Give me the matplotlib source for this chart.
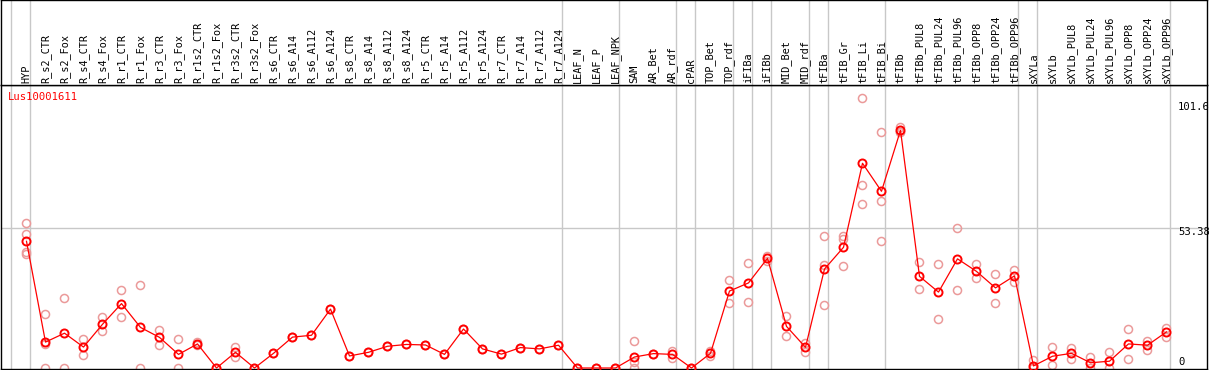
import matplotlib
matplotlib.use('Agg')
import matplotlib.pyplot as plt

gene = 'Lus10001611'

samples = ['HYP', 'R_s2_CTR', 'R_s2_Fox', 'R_s4_CTR', 'R_s4_Fox', 'R_r1_CTR', 'R_r1_Fox',
           'R_r3_CTR', 'R_r3_Fox', 'R_r1s2_CTR', 'R_r1s2_Fox', 'R_r3s2_CTR', 'R_r3s2_Fox',
           'R_s6_CTR', 'R_s6_A14', 'R_s6_A112', 'R_s6_A124', 'R_s8_CTR', 'R_s8_A14',
           'R_s8_A112', 'R_s8_A124', 'R_r5_CTR', 'R_r5_A14', 'R_r5_A112', 'R_r5_A124',
           'R_r7_CTR', 'R_r7_A14', 'R_r7_A112', 'R_r7_A124', 'LEAF_N', 'LEAF_P', 'LEAF_NPK',
           'SAM', 'AR_Bet', 'AR_rdf', 'cPAR', 'TOP_Bet', 'TOP_rdf', 'iFIBa', 'iFIBb',
           'MID_Bet', 'MID_rdf', 'tFIBa', 'tFIB_Gr', 'tFIB_Li', 'tFIB_Bi', 'tFIBb',
           'tFIBb_PUL8', 'tFIBb_PUL24', 'tFIBb_PUL96', 'tFIBb_OPP8', 'tFIBb_OPP24', 'tFIBb_OPP96',
           'sXYLa', 'sXYLb', 'sXYLb_PUL8', 'sXYLb_PUL24', 'sXYLb_PUL96', 'sXYLb_OPP8',
           'sXYLb_OPP24', 'sXYLb_OPP96']

# mean expression per sample
means = [48.4, 9.9, 13.3, 8.0, 16.7, 24.6, 15.5, 11.7, 5.2, 9.2, 0.0, 6.0, 0.0,
         5.6, 11.8, 12.5, 22.5, 4.6, 6.0, 8.3, 9.0, 8.8, 5.2, 14.9, 7.3,
         5.3, 7.8, 7.3, 8.7, 0.0, 0.0, 0.0, 4.2, 5.5, 5.2, 0.0, 5.6, 29.4, 32.5, 41.9,
         15.9, 7.9, 37.8, 46.1, 78.2, 67.5, 90.8, 35.0, 29.0, 41.7, 36.9, 30.6, 35.2,
         0.8, 4.5, 5.6, 2.0, 2.6, 9.2, 8.7, 13.8]

# individual replicates
reps = [[55.3, 51.1, 44.4, 43.4], [20.5, 0.0, 9.3], [26.9, 0.0], [11.1, 4.8], [19.5, 14.0],
        [29.7, 19.4], [31.6, 0.0], [14.5, 8.9], [11.1, 0.0], [9.8, 8.6], [0.0],
        [7.9, 4.1], [0.0], [5.6], [11.8], [12.5], [22.5], [4.6], [6.0], [8.3], [9.0],
        [8.8], [5.2], [14.9], [7.3], [5.3], [7.8], [7.3], [8.7], [0.0], [0.0], [0.0],
        [10.3, 2.2, 0.0], [5.5], [6.4, 3.9], [0.0], [6.6, 4.6], [33.5, 24.7], [40.0, 25.1],
        [42.8, 41.0], [19.8, 12.2], [9.7, 6.0], [50.3, 39.5, 24.1], [50.6, 49.3, 38.9],
        [103.0, 69.9, 62.5], [90.1, 63.7, 48.4], [92.0, 90.1, 90.3], [40.5, 30.1],
        [39.6, 18.6], [53.4, 29.8], [39.7, 34.3], [35.8, 24.7], [37.6, 32.7],
        [3.1, 0.0], [8.0, 1.0], [7.8, 3.3], [4.2, 0.0], [6.1, 0.0], [14.8, 3.3],
        [10.4, 6.9], [15.4, 12.0]]

# group separators sit just right of these sample indices
group_ends = [-1, 0, 28, 31, 34, 35, 37, 38, 39, 41, 42, 45, 52, 53, 60]

ytick_vals = [101.6, 53.38, 0]
ytick_text = ['101.6', '53.38', '0']

W, H = 1209, 370
fig = plt.figure(figsize=(W / 100, H / 100), dpi=100)
ax = fig.add_axes([1 / W, 1 / H, 1206 / W, 284 / H])
hax = fig.add_axes([1 / W, 285 / H, 1206 / W, 85 / H])

x = list(range(len(samples)))
xlim = (-1.342, -1.342 + 1206 / 19)

for a in (ax, hax):
    a.set_xlim(*xlim)
    a.set_xticks([])
    a.set_yticks([])
    for s in a.spines.values():
        s.set_color('black')
        s.set_linewidth(1.0)
    for g in group_ends:
        a.axvline(g + 0.21, color='#c8c8c8', lw=1.0, zorder=0)

ax.set_ylim(-0.38, 108.1)
hax.set_ylim(0, 1)
ax.axhline(53.38, color='#c8c8c8', lw=1.0, zorder=0)

# replicates
for i, r in enumerate(reps):
    ax.plot([i] * len(r), r, 'o', ms=5.8, mfc='none', mec='#eb9a9a', mew=1.1,
            clip_on=False, zorder=2)

ax.plot(x, means, '-', color='red', lw=0.9, zorder=3)
ax.plot(x, means, 'o', ms=5.8, mfc='none', mec='red', mew=1.4, clip_on=False, zorder=4)

for i, name in enumerate(samples):
    hax.text(i, 2 / 85, name, rotation=90, ha='center', va='bottom',
             family='DejaVu Sans Mono', fontsize=7.4)

ax.text(0.006, 0.975, gene, transform=ax.transAxes, color='red', ha='left', va='top',
        family='DejaVu Sans Mono', fontsize=7.6)

offsets = [-1.8, -1.3, 2.4]
for v, t, o in zip(ytick_vals, ytick_text, offsets):
    ax.text(60.6, v + o, t, ha='left', va='center', family='DejaVu Sans Mono', fontsize=7.6)

fig.savefig('out.png', dpi=100)
